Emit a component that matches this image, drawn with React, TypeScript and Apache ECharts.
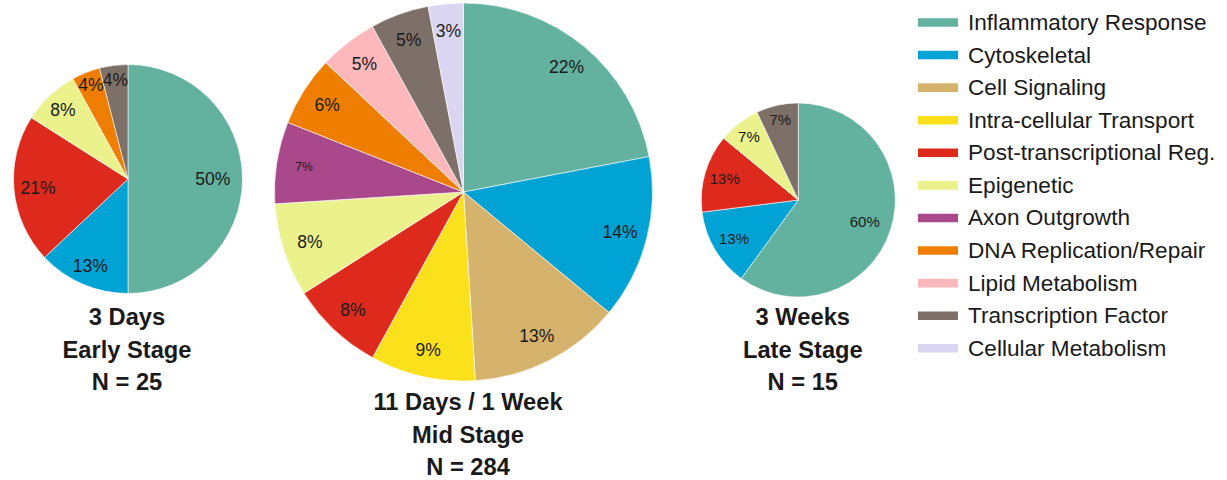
import React, { useEffect, useRef } from "react";
import * as echarts from "echarts";

// Functional categories, in legend order
const categories = [
  "Inflammatory Response",
  "Cytoskeletal",
  "Cell Signaling",
  "Intra-cellular Transport",
  "Post-transcriptional Reg.",
  "Epigenetic",
  "Axon Outgrowth",
  "DNA Replication/Repair",
  "Lipid Metabolism",
  "Transcription Factor",
  "Cellular Metabolism",
];

// Share of genes per category (%) at each stage
const earlyNames = [
  "Inflammatory Response",
  "Cytoskeletal",
  "Post-transcriptional Reg.",
  "Epigenetic",
  "DNA Replication/Repair",
  "Transcription Factor",
];
const earlyValues = [50, 13, 21, 8, 4, 4];

const midNames = categories;
const midValues = [22, 14, 13, 9, 8, 8, 7, 6, 5, 5, 3];

const lateNames = [
  "Inflammatory Response",
  "Cytoskeletal",
  "Post-transcriptional Reg.",
  "Epigenetic",
  "Transcription Factor",
];
const lateValues = [60, 13, 13, 7, 7];

// Stage captions under each pie
const earlyTitle = ["3 Days", "Early Stage", "N = 25"];
const midTitle = ["11 Days / 1 Week", "Mid Stage", "N = 284"];
const lateTitle = ["3 Weeks", "Late Stage", "N = 15"];

const palette = [
  "#63b19f",
  "#00a3d4",
  "#d5b36d",
  "#fbe11b",
  "#dd2a1c",
  "#ebf28c",
  "#a9488b",
  "#ef7e00",
  "#fdb8bc",
  "#7d7068",
  "#dad5f1",
];

const FONT = "'Liberation Sans', Arial, Helvetica, sans-serif";
const TEXT = "#1a1a1a";

const colorOf = (name: string) => palette[categories.indexOf(name)];

type PieSpec = {
  names: string[];
  values: number[];
  center: [number, number];
  radius: number;
  // distance of each percentage label from the centre, as a fraction of the radius
  labelDist: number[] | number;
  labelSize: number;
  smallLabels?: string[];
};

const pies: PieSpec[] = [
  {
    names: earlyNames,
    values: earlyValues,
    center: [128, 179],
    radius: 114.5,
    labelDist: [0.74, 0.83, 0.79, 0.83, 0.88, 0.87],
    labelSize: 17.5,
  },
  {
    names: midNames,
    values: midValues,
    center: [463.5, 192],
    radius: 189,
    labelDist: 0.855,
    labelSize: 17.5,
    smallLabels: ["Axon Outgrowth"],
  },
  {
    names: lateNames,
    values: lateValues,
    center: [798.3, 200],
    radius: 97,
    labelDist: [0.72, 0.77, 0.79, 0.83, 0.85],
    labelSize: 15,
  },
];

function pieSeries(p: PieSpec, i: number) {
  const total = p.values.reduce((a, b) => a + b, 0);
  // place each label along its slice's bisector, measured clockwise from 12 o'clock
  const labelLayout = (params: any) => {
    const k = params.dataIndex;
    let before = 0;
    for (let j = 0; j < k; j++) before += p.values[j];
    const theta = ((before + p.values[k] / 2) / total) * Math.PI * 2;
    const f = Array.isArray(p.labelDist) ? p.labelDist[k] : p.labelDist;
    const r = f * p.radius;
    return {
      x: p.center[0] + Math.sin(theta) * r,
      y: p.center[1] - Math.cos(theta) * r,
      align: "center",
      verticalAlign: "middle",
      hideOverlap: false,
      moveOverlap: null,
    };
  };
  return {
    type: "pie",
    name: "stage" + i,
    center: p.center,
    radius: [0, p.radius],
    startAngle: 90,
    clockwise: true,
    silent: true,
    avoidLabelOverlap: false,
    emphasis: { disabled: true },
    itemStyle: { borderColor: "#ffffff", borderWidth: 0.6 },
    label: {
      show: true,
      position: "inside",
      formatter: "{c}%",
      color: TEXT,
      fontFamily: FONT,
      fontSize: p.labelSize,
      textBorderWidth: 0,
    },
    labelLine: { show: false },
    labelLayout,
    data: p.names.map((n, k) => ({
      name: n,
      value: p.values[k],
      itemStyle: { color: colorOf(n) },
      label: p.smallLabels && p.smallLabels.includes(n) ? { fontSize: 12 } : undefined,
    })),
  };
}

function caption(lines: string[], x: number, top: number) {
  return {
    type: "text",
    x,
    y: top,
    silent: true,
    style: {
      text: lines.join("\n"),
      align: "center",
      verticalAlign: "top",
      fontFamily: FONT,
      fontWeight: "bold",
      fontSize: 23.7,
      lineHeight: 32.6,
      fill: TEXT,
    },
  };
}

export default function App() {
  const ref = useRef<HTMLDivElement>(null);

  useEffect(() => {
    if (!ref.current) return;
    const chart = echarts.init(ref.current, undefined, { renderer: "svg" });
    chart.setOption({
      animation: false,
      backgroundColor: "#ffffff",
      legend: {
        orient: "vertical",
        left: 918,
        top: 6.2,
        padding: 0,
        itemGap: 0,
        itemWidth: 40,
        itemHeight: 8.6,
        icon: "rect",
        selectedMode: false,
        data: categories,
        itemStyle: { borderWidth: 0 },
        textStyle: {
          fontFamily: FONT,
          fontSize: 22.6,
          color: TEXT,
          lineHeight: 32.58,
          padding: [0, 0, 0, 5],
        },
      },
      series: pies.map(pieSeries),
      graphic: [
        caption(earlyTitle, 127, 300.8),
        caption(midTitle, 468, 385.8),
        caption(lateTitle, 802.8, 300.8),
      ],
    });
    return () => chart.dispose();
  }, []);

  return (
    <div
      ref={ref}
      style={{ position: "fixed", left: 0, top: 0, width: 1227, height: 480, background: "#fff" }}
    />
  );
}
